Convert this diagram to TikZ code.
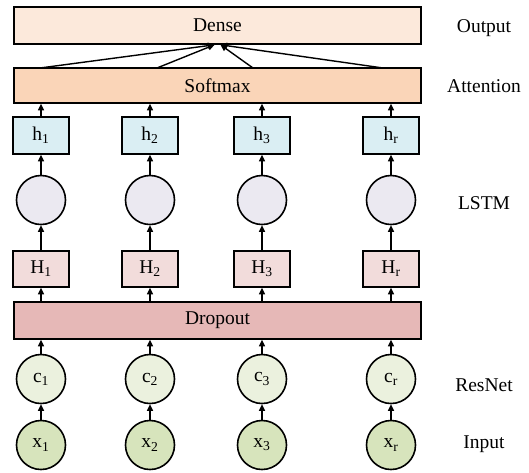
\documentclass[tikz,border=0pt]{standalone}
\usepackage{fontspec}
\setmainfont{Liberation Serif}
\usetikzlibrary{arrows.meta}

\definecolor{densefill}{HTML}{FCE9DB}
\definecolor{softfill}{HTML}{FAD5B8}
\definecolor{hfill}{HTML}{DAEEF3}
\definecolor{lstmfill}{HTML}{EBE9F1}
\definecolor{Hfill}{HTML}{F2DCDB}
\definecolor{dropfill}{HTML}{E6B8B7}
\definecolor{cfill}{HTML}{EBF1DE}
\definecolor{xfill}{HTML}{D7E4BC}

\tikzset{
	layer/.style={draw, line width=1.6pt, minimum width=407pt, inner sep=0pt},
	smallbox/.style={draw, line width=1.6pt, minimum width=56pt, minimum height=37pt, inner sep=0pt},
	cell/.style={draw, circle, line width=1.6pt, minimum size=49pt, inner sep=0pt},
	arr/.style={-{Triangle[length=6.5pt,width=6pt]}, line width=1.4pt}
}

\begin{document}
\begin{tikzpicture}[x=1pt, y=-1pt, font=\fontsize{19.5}{22}\selectfont]
	\useasboundingbox (0,0) rectangle (529,472);
	
	% Output and attention layers
	\node[layer, fill=densefill, minimum height=37pt] (dense) at (217.5,25.5) {Dense};
	\node[layer, fill=softfill, minimum height=35pt] (softmax) at (217.5,85.5) {Softmax};
	
	% hidden outputs
	\node[smallbox, fill=hfill] (h1) at (41,135.5) {h\textsubscript{1}};
	\node[smallbox, fill=hfill] (h2) at (150,135.5) {h\textsubscript{2}};
	\node[smallbox, fill=hfill] (h3) at (262,135.5) {h\textsubscript{3}};
	\node[smallbox, fill=hfill] (hr) at (391,135.5) {h\textsubscript{r}};
	
	% LSTM cells
	\node[cell, fill=lstmfill] (l1) at (41,200) {};
	\node[cell, fill=lstmfill] (l2) at (150,200) {};
	\node[cell, fill=lstmfill] (l3) at (262,200) {};
	\node[cell, fill=lstmfill] (lr) at (391,200) {};
	
	% LSTM inputs
	\node[smallbox, fill=Hfill, minimum height=36pt] (H1) at (41,269) {H\textsubscript{1}};
	\node[smallbox, fill=Hfill, minimum height=36pt] (H2) at (150,269) {H\textsubscript{2}};
	\node[smallbox, fill=Hfill, minimum height=36pt] (H3) at (262,269) {H\textsubscript{3}};
	\node[smallbox, fill=Hfill, minimum height=36pt] (Hr) at (391,269) {H\textsubscript{r}};
	
	% Dropout layer
	\node[layer, fill=dropfill, minimum height=37pt] (dropout) at (217.5,320.5) {Dropout};
	
	% ResNet features
	\node[cell, fill=cfill] (c1) at (41,379) {c\textsubscript{1}};
	\node[cell, fill=cfill] (c2) at (150,379) {c\textsubscript{2}};
	\node[cell, fill=cfill] (c3) at (262,379) {c\textsubscript{3}};
	\node[cell, fill=cfill] (cr) at (391,379) {c\textsubscript{r}};
	
	% Inputs
	\node[cell, fill=xfill] (x1) at (41,445) {x\textsubscript{1}};
	\node[cell, fill=xfill] (x2) at (150,445) {x\textsubscript{2}};
	\node[cell, fill=xfill] (x3) at (262,445) {x\textsubscript{3}};
	\node[cell, fill=xfill] (xr) at (391,445) {x\textsubscript{r}};
	
	% Layer names
	\node (outlbl) at (484,28) {Output};
	\node (attlbl) at (484,86) {Attention};
	\node (lstmlbl) at (484,203) {LSTM};
	\node (reslbl) at (484,385) {ResNet};
	\node (inlbl) at (484,444) {Input};
	
	% Softmax to Dense
	\coordinate (s1) at (40,68);
	\coordinate (s2) at (157,68);
	\coordinate (s3) at (253,68);
	\coordinate (s4) at (383,68);
	\draw[arr] (s1) -- ([xshift=-3pt]dense.south);
	\draw[arr] (s2) -- ([xshift=-3pt]dense.south);
	\draw[arr] (s3) -- ([xshift=3pt]dense.south);
	\draw[arr] (s4) -- ([xshift=3pt]dense.south);
	
	% Connecting arrows
	\draw[arr] (x1) -- (c1);
	\draw[arr] (x2) -- (c2);
	\draw[arr] (x3) -- (c3);
	\draw[arr] (xr) -- (cr);
	\draw[arr] (c1) -- (c1 |- dropout.south);
	\draw[arr] (c2) -- (c2 |- dropout.south);
	\draw[arr] (c3) -- (c3 |- dropout.south);
	\draw[arr] (cr) -- (cr |- dropout.south);
	\draw[arr] (H1 |- dropout.north) -- (H1);
	\draw[arr] (H2 |- dropout.north) -- (H2);
	\draw[arr] (H3 |- dropout.north) -- (H3);
	\draw[arr] (Hr |- dropout.north) -- (Hr);
	\draw[arr] (H1) -- (l1);
	\draw[arr] (H2) -- (l2);
	\draw[arr] (H3) -- (l3);
	\draw[arr] (Hr) -- (lr);
	\draw[arr] (l1) -- (h1);
	\draw[arr] (l2) -- (h2);
	\draw[arr] (l3) -- (h3);
	\draw[arr] (lr) -- (hr);
	\draw[arr] (h1) -- (h1 |- softmax.south);
	\draw[arr] (h2) -- (h2 |- softmax.south);
	\draw[arr] (h3) -- (h3 |- softmax.south);
	\draw[arr] (hr) -- (hr |- softmax.south);
\end{tikzpicture}
\end{document}
